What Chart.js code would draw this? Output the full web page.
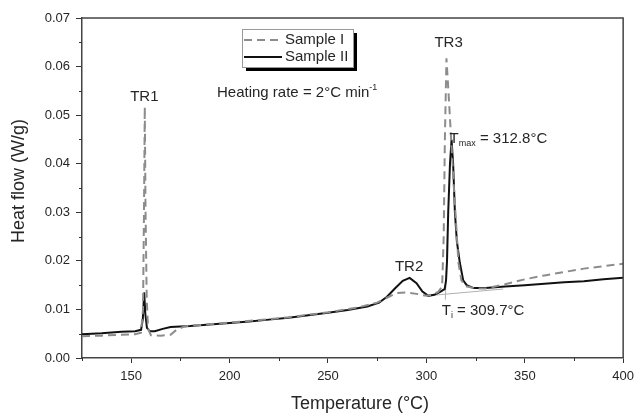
<!DOCTYPE html>
<html lang="en">

<head>
    <meta charset="UTF-8">
    <script src="https://cdn.jsdelivr.net/npm/chart.js"></script>
    <title>DSC</title>
    <style>
        html, body { margin: 0; padding: 0; background: #fff; }
        #wrap { width: 640px; height: 415px; }
    </style>
</head>

<body>
    <div id="wrap">
        <canvas id="myChart" width="640" height="415"></canvas>
    </div>
</body>
<script>
    // Sample I (dashed)
    const tempI = [125, 135, 145, 152, 155, 156, 156.5, 156.9, 157.3, 157.9, 158.6, 160, 165, 170, 173, 177, 185,
        200, 215, 230, 250, 265, 275, 280, 285, 290, 295, 300, 303, 306, 308, 308.8, 309.4, 310.2, 311.2, 312.6,
        314, 315.3, 316.3, 317.8, 320, 325, 330, 340, 350, 360, 370, 380, 390, 400];
    const heatI = [0.0045, 0.0046, 0.0048, 0.0049, 0.0052, 0.010, 0.030, 0.0517, 0.030, 0.012, 0.0060, 0.0047, 0.0046,
        0.0048, 0.0058, 0.0065, 0.0068, 0.0073, 0.0078, 0.0084, 0.0094, 0.0104, 0.0114, 0.0124, 0.0134, 0.0135, 0.0132,
        0.0128, 0.0130, 0.0136, 0.0147, 0.025, 0.045, 0.0617, 0.055, 0.045, 0.035, 0.0264, 0.0196, 0.0160, 0.0148,
        0.0143, 0.0143, 0.0152, 0.0162, 0.0170, 0.0177, 0.0184, 0.0189, 0.0194];

    // Sample II (solid)
    const tempII = [125, 135, 145, 152, 155, 155.9, 156.6, 157.2, 158, 159.5, 162, 166, 170, 180, 190, 200, 210, 220,
        230, 240, 250, 260, 270, 276, 280, 284, 288, 291.5, 295, 298, 301, 304, 307, 309.3, 310, 310.5, 311.1, 312,
        312.8, 313.6, 314.5, 315.5, 317, 318.7, 320.5, 324, 330, 340, 350, 360, 370, 380, 390, 400];
    const heatII = [0.0049, 0.0051, 0.0054, 0.0055, 0.0058, 0.0080, 0.0135, 0.0090, 0.0062, 0.0055, 0.0055, 0.0060,
        0.0064, 0.0066, 0.0069, 0.0072, 0.0075, 0.0079, 0.0083, 0.0088, 0.0093, 0.0099, 0.0106, 0.0114, 0.0126, 0.0143,
        0.0159, 0.0165, 0.0154, 0.0137, 0.0128, 0.0130, 0.0136, 0.0142, 0.0160, 0.0200, 0.0300, 0.0400, 0.0449, 0.0400,
        0.0300, 0.0240, 0.0196, 0.0160, 0.0150, 0.0144, 0.0144, 0.0147, 0.0150, 0.0153, 0.0156, 0.0158, 0.0162, 0.0165];

    // onset construction lines
    const baseT = [300.2, 339];
    const baseH = [0.0128, 0.0142];
    const tangT = [309.65, 310.9];
    const tangH = [0.0120, 0.0280];

    const xTicks = [150, 200, 250, 300, 350, 400];
    const yTicks = ['0.00', '0.01', '0.02', '0.03', '0.04', '0.05', '0.06', '0.07'];

    const labels = ['Sample I', 'Sample II'];

    function pts(xs, ys) {
        return xs.map(function (x, i) { return { x: x, y: ys[i] }; });
    }

    const FONT = 'Liberation Sans, Arial, sans-serif';
    const INK = '#262626';

    function isMajorY(v) { return Math.abs(v * 100 - Math.round(v * 100)) < 1e-6; }
    function isMajorX(v) { return Math.abs(v % 50) < 1e-6; }

    // minor ticks, frame, legend and text labels
    const extras = {
        id: 'extras',
        afterDraw(chart) {
            const c = chart.ctx;
            const a = chart.chartArea;
            const xs = chart.scales.x, ys = chart.scales.y;
            c.save();

            // minor ticks
            c.strokeStyle = '#333';
            c.lineWidth = 1;
            xs.ticks.forEach(function (t) {
                if (isMajorX(t.value)) return;
                const px = Math.round(xs.getPixelForValue(t.value)) + 0.5;
                c.beginPath(); c.moveTo(px, a.bottom); c.lineTo(px, a.bottom + 3); c.stroke();
            });
            ys.ticks.forEach(function (t) {
                if (isMajorY(t.value)) return;
                const py = Math.round(ys.getPixelForValue(t.value)) + 0.5;
                c.beginPath(); c.moveTo(a.left - 3, py); c.lineTo(a.left, py); c.stroke();
            });

            // frame top / right
            c.strokeStyle = '#444';
            c.lineWidth = 1.5;
            c.beginPath();
            c.moveTo(a.left, a.top); c.lineTo(a.right, a.top); c.lineTo(a.right, a.bottom);
            c.stroke();

            // axis titles
            c.fillStyle = INK;
            c.font = '18px ' + FONT;
            c.textAlign = 'center';
            c.textBaseline = 'middle';
            c.fillText('Temperature (°C)', 360, 404);
            c.save();
            c.translate(19, 181);
            c.rotate(-Math.PI / 2);
            c.fillText('Heat flow (W/g)', 0, 0);
            c.restore();

            // legend box with shadow
            const lx = 242, ly = 29, lw = 111, lh = 38;
            c.fillStyle = '#000';
            c.fillRect(lx + 4, ly + lh, lw, 4);
            c.fillRect(lx + lw, ly + 4, 4, lh);
            c.fillStyle = '#fff';
            c.fillRect(lx, ly, lw, lh);
            c.strokeStyle = '#999';
            c.lineWidth = 1;
            c.strokeRect(lx + 0.5, ly + 0.5, lw, lh);
            chart.data.datasets.slice(0, 2).forEach(function (ds, i) {
                const yy = ly + 11 + i * 17;
                c.strokeStyle = ds.borderColor;
                c.lineWidth = 1.8;
                c.setLineDash(ds.borderDash || []);
                c.beginPath(); c.moveTo(lx + 2, yy); c.lineTo(lx + 40, yy); c.stroke();
                c.setLineDash([]);
                c.fillStyle = INK;
                c.font = '15px ' + FONT;
                c.textAlign = 'left';
                c.fillText(ds.label, lx + 43, yy);
            });

            // heating rate
            c.fillStyle = INK;
            c.font = '15px ' + FONT;
            c.textAlign = 'left';
            c.textBaseline = 'alphabetic';
            let t = 'Heating rate = 2°C min';
            c.fillText(t, 217, 97);
            let w = c.measureText(t).width;
            c.font = '9px ' + FONT;
            c.fillText('-1', 217 + w, 90);

            // peak labels placed by data values
            c.font = '15px ' + FONT;
            c.textAlign = 'center';
            c.textBaseline = 'middle';
            c.fillText('TR1', xs.getPixelForValue(156.7), ys.getPixelForValue(0.0537));
            c.fillText('TR2', xs.getPixelForValue(291.2), ys.getPixelForValue(0.0187));
            c.fillText('TR3', xs.getPixelForValue(311.3), ys.getPixelForValue(0.0649));

            c.textAlign = 'left';
            c.textBaseline = 'alphabetic';
            let px = xs.getPixelForValue(311.8), py = ys.getPixelForValue(0.0455) + 6;
            c.fillText('T', px, py);
            w = c.measureText('T').width;
            c.font = '9px ' + FONT;
            c.fillText('max', px + w, py + 3);
            let w2 = c.measureText('max').width;
            c.font = '15px ' + FONT;
            c.fillText(' = 312.8°C', px + w + w2, py);

            px = xs.getPixelForValue(307.8); py = ys.getPixelForValue(0.0101) + 6;
            c.fillText('T', px, py);
            w = c.measureText('T').width;
            c.font = '9px ' + FONT;
            c.fillText('i', px + w, py + 3);
            w2 = c.measureText('i').width;
            c.font = '15px ' + FONT;
            c.fillText(' = 309.7°C', px + w + w2, py);

            c.restore();
        }
    };

    const dados = {
        datasets: [{
            label: labels[0],
            data: pts(tempI, heatI),
            borderColor: '#8c8c8c',
            borderWidth: 2,
            borderDash: [8, 5],
            pointRadius: 0,
            tension: 0
        }, {
            label: labels[1],
            data: pts(tempII, heatII),
            borderColor: '#111',
            borderWidth: 2,
            pointRadius: 0,
            tension: 0
        }, {
            label: 'baseline',
            data: pts(baseT, baseH),
            borderColor: '#b0b0b0',
            borderWidth: 1,
            pointRadius: 0
        }, {
            label: 'tangent',
            data: pts(tangT, tangH),
            borderColor: '#b0b0b0',
            borderWidth: 1,
            pointRadius: 0
        }]
    };

    const config = {
        type: 'line',
        data: dados,
        options: {
            responsive: false,
            animation: false,
            layout: { padding: { top: 18, right: 11, left: 0, bottom: 0 } },
            plugins: { legend: { display: false }, tooltip: { enabled: false } },
            scales: {
                x: {
                    type: 'linear',
                    min: 125,
                    max: 400,
                    afterFit: function (s) { s.height = 57; },
                    border: { display: true, color: '#444', width: 1.5 },
                    grid: {
                        drawOnChartArea: false,
                        tickLength: 5,
                        tickColor: function (ctx) { return ctx.tick && isMajorX(ctx.tick.value) ? '#333' : 'rgba(0,0,0,0)'; }
                    },
                    ticks: {
                        stepSize: 25,
                        padding: 6,
                        maxRotation: 0,
                        autoSkip: false,
                        color: INK,
                        font: { family: FONT, size: 13 },
                        callback: function (v) { return xTicks.indexOf(v) >= 0 ? String(v) : ''; }
                    }
                },
                y: {
                    min: 0,
                    max: 0.07,
                    afterFit: function (s) { s.width = 82; },
                    border: { display: true, color: '#444', width: 1.5 },
                    grid: {
                        drawOnChartArea: false,
                        tickLength: 6,
                        tickColor: function (ctx) { return ctx.tick && isMajorY(ctx.tick.value) ? '#333' : 'rgba(0,0,0,0)'; }
                    },
                    ticks: {
                        stepSize: 0.005,
                        padding: 6,
                        autoSkip: false,
                        color: INK,
                        font: { family: FONT, size: 13 },
                        callback: function (v) {
                            if (!isMajorY(v)) return '';
                            return yTicks[Math.round(v * 100)];
                        }
                    }
                }
            }
        },
        plugins: [extras]
    };

    const myChart = new Chart(document.getElementById('myChart'), config);
</script>

</html>
